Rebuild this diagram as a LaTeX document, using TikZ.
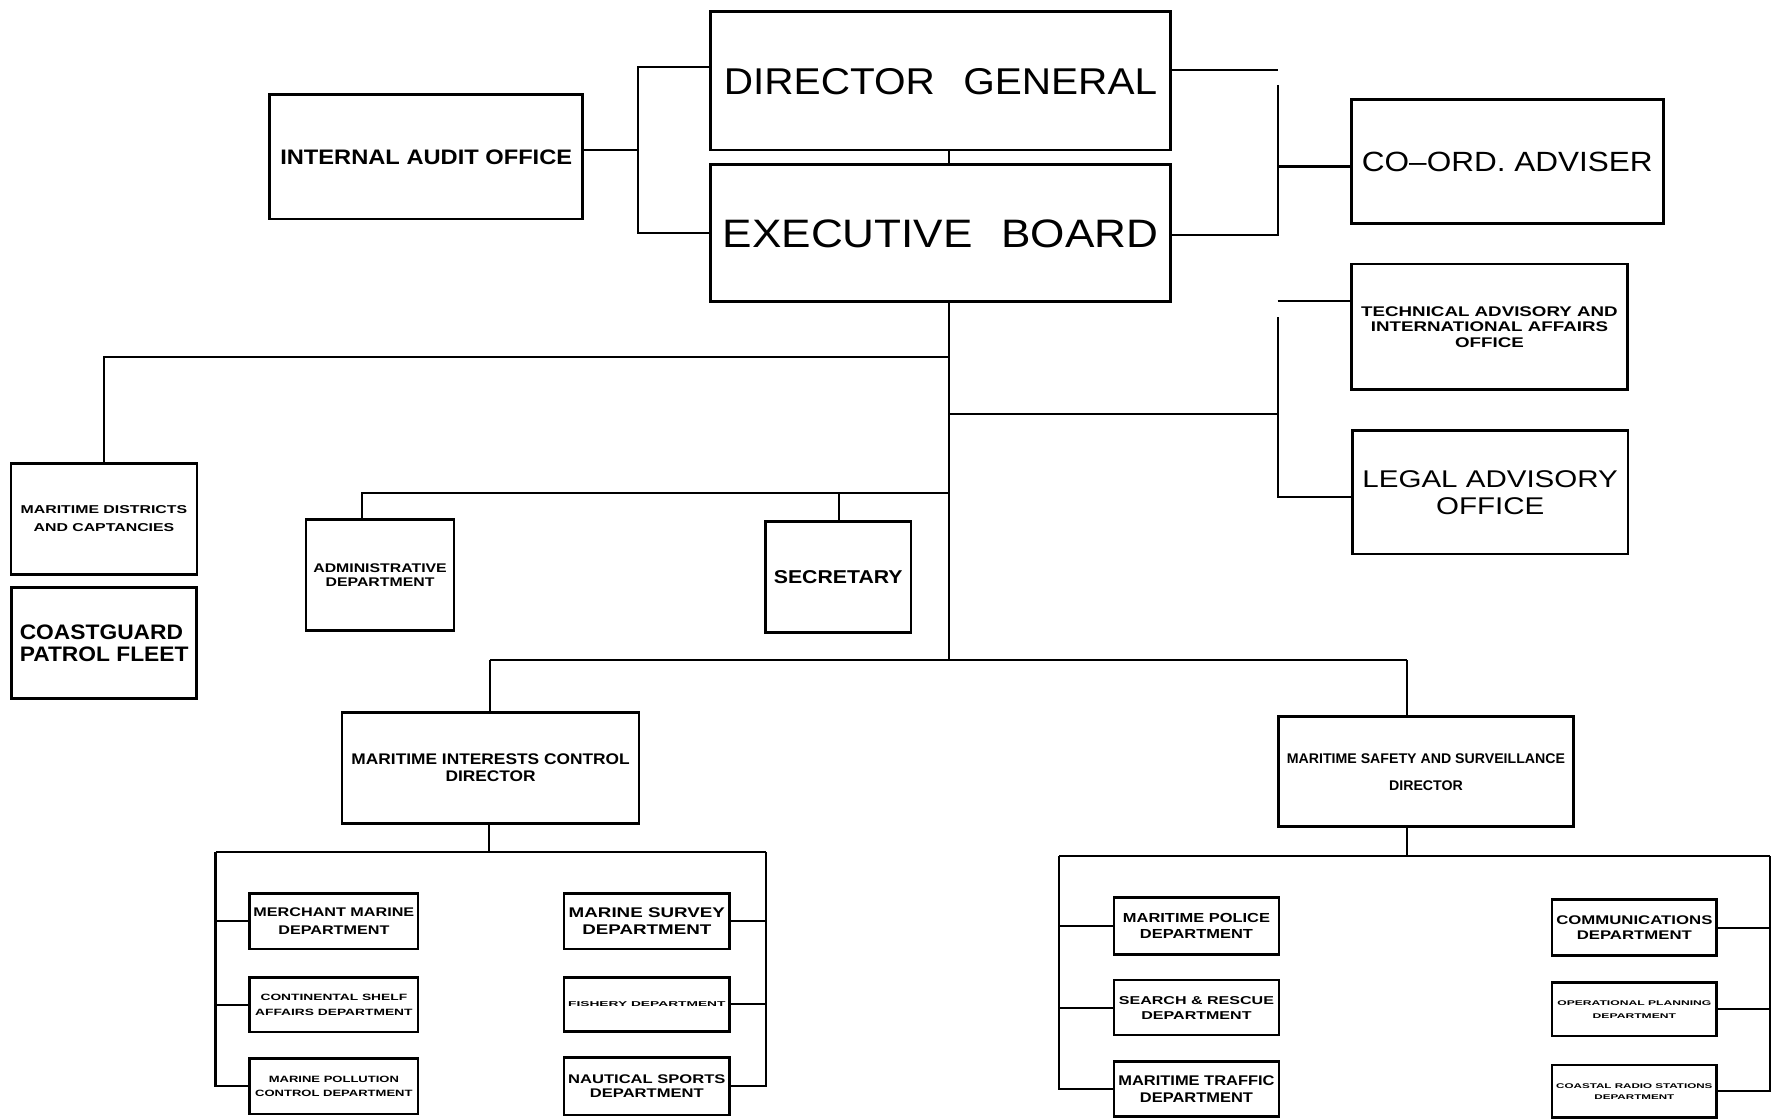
\documentclass[tikz,border=0pt]{standalone}
\usepackage{fontspec}
\setmainfont{Liberation Sans}
\usepackage{graphicx}
% #1 column alignment, #2 target width, #3 font size, #4 line skip, #5 extra lines, #6 text
\newcommand\tx[6][c]{\raisebox{0pt}[.716\dimexpr#3pt\relax][#5\dimexpr#4pt\relax]{\resizebox{#2pt}{\height}{\fontsize{#3pt}{#4pt}\selectfont\begin{tabular}[t]{@{}#1@{}}#6\end{tabular}}}}
\tikzset{
  box/.style={draw, line width=2.3pt, inner sep=0pt, outer sep=0pt, font=\bfseries},
  wh/.style 2 args={minimum width=#1pt, minimum height=#2pt},
  wire/.style={line width=1.8pt, line join=miter}
}
\begin{document}
\begin{tikzpicture}[x=1pt,y=-1pt]
\useasboundingbox (0,0) rectangle (1568,982);
% ---------- top level ----------
\node[box,font=\mdseries,wh={403.6}{121.4}] (dg) at (824.8,70.9) {\tx{380}{32.7}{39}{0}{DIRECTOR\hspace{0.7em}GENERAL}};
\node[box,font=\mdseries,wh={403.6}{120.6}] (eb) at (824.8,204.3) {\tx{382}{34.8}{41}{0}{EXECUTIVE\hspace{0.65em}BOARD}};
\node[box,wh={274.4}{109.3}] (iao) at (373.8,137.35) {\tx{256}{18.4}{22}{0}{INTERNAL AUDIT OFFICE}};
\node[box,font=\mdseries,wh={273.7}{108.7}] (coord) at (1321.85,141.45) {\tx{255}{24.4}{29}{0}{CO--ORD.\ ADVISER}};
\node[box,wh={241.6}{109.9}] (tech) at (1306.2,286.45) {\tx{225}{12.3}{13.6}{2}{TECHNICAL ADVISORY AND\\INTERNATIONAL AFFAIRS\\OFFICE}};
\node[box,font=\mdseries,wh={241.6}{108.1}] (legal) at (1306.8,431.75) {\tx{224}{21.2}{24.4}{1}{LEGAL ADVISORY\\OFFICE}};
% ---------- second level ----------
\node[box,wh={163.1}{97.4}] (md) at (91.15,455) {\tx{146}{10}{15.7}{1}{MARITIME DISTRICTS\\AND CAPTANCIES}};
\node[box,wh={162.3}{97.4}] (cg) at (91.35,563.7) {\tx[l]{148}{18.4}{19.3}{1}{COASTGUARD\\PATROL FLEET}};
\node[box,wh={129.8}{97.6}] (admin) at (333.3,504.2) {\tx{117}{11}{13}{1}{ADMINISTRATIVE\\DEPARTMENT}};
\node[box,wh={127.6}{97}] (sec) at (735.1,506) {\tx{113}{16.3}{19.5}{0}{SECRETARY}};
\node[box,wh={260.5}{97.3}] (micd) at (430.25,673.35) {\tx{244}{13.5}{15}{1}{MARITIME INTERESTS CONTROL\\DIRECTOR}};
\node[box,wh={259}{96.5}] (mss) at (1250.5,676.75) {\tx{244}{12.3}{23.5}{1}{MARITIME SAFETY AND SURVEILLANCE\\DIRECTOR}};
% ---------- departments, left director ----------
\node[box,wh={147.6}{48.9}] (merch) at (292.8,807.85) {\tx{141}{11}{15.5}{1}{MERCHANT MARINE\\DEPARTMENT}};
\node[box,wh={147.6}{48}] (cont) at (292.8,881) {\tx{138}{8}{12.6}{1}{CONTINENTAL SHELF\\AFFAIRS DEPARTMENT}};
\node[box,wh={147.6}{49}] (poll) at (292.8,952.5) {\tx{138}{8}{11.7}{1}{MARINE POLLUTION\\CONTROL DEPARTMENT}};
\node[box,wh={145.5}{48.9}] (survey) at (567.25,807.85) {\tx{137}{12.3}{14.6}{1}{MARINE SURVEY\\DEPARTMENT}};
\node[box,wh={145.5}{47.7}] (fish) at (567.25,880.85) {\tx{138}{6.2}{8}{0}{FISHERY DEPARTMENT}};
\node[box,wh={145.5}{50.6}] (naut) at (567.25,952.5) {\tx{138}{11}{12.5}{1}{NAUTICAL SPORTS\\DEPARTMENT}};
% ---------- departments, right director ----------
\node[box,wh={144.5}{50}] (police) at (1049.25,812) {\tx{129}{11.5}{13.7}{1}{MARITIME POLICE\\DEPARTMENT}};
\node[box,wh={144.5}{48.2}] (sar) at (1049.25,883.6) {\tx{136}{10}{13}{1}{SEARCH \& RESCUE\\DEPARTMENT}};
\node[box,wh={144.5}{48.3}] (traffic) at (1049.25,955.15) {\tx{137}{12.3}{14.4}{1}{MARITIME TRAFFIC\\DEPARTMENT}};
\node[box,wh={144.5}{49}] (comms) at (1433.25,813.5) {\tx{137}{11}{13.4}{1}{COMMUNICATIONS\\DEPARTMENT}};
\node[box,wh={144.5}{46.8}] (opplan) at (1433.25,885.2) {\tx{135}{6}{11}{1}{OPERATIONAL PLANNING\\DEPARTMENT}};
\node[box,wh={144.5}{46}] (coastal) at (1433.25,957) {\tx{137}{6}{9.3}{1}{COASTAL RADIO STATIONS\\DEPARTMENT}};
% ---------- junction coordinates ----------
\coordinate (trunk) at (832.5,0);
\coordinate (ja) at (559.8,131.5);
\coordinate (ja1) at (559.8,58.5);
\coordinate (ja2) at (559.8,204.7);
\coordinate (jb1) at (1120.5,61);
\coordinate (jb2) at (1120.5,74.5);
\coordinate (jb3) at (1120.5,206);
\coordinate (jb4) at (1120.5,146);
\coordinate (jc1) at (1120.5,264);
\coordinate (jc2) at (1120.5,278);
\coordinate (jc3) at (1120.5,435.6);
\coordinate (t1) at (832.5,313);
\coordinate (l1) at (91,313);
\coordinate (t2) at (832.5,432.5);
\coordinate (l2) at (317.3,432.5);
\coordinate (l3) at (736,432.5);
\coordinate (t3) at (832.5,363);
\coordinate (r3) at (1120.5,363);
\coordinate (t4) at (832.5,578.8);
\coordinate (l4) at (429.5,578.8);
\coordinate (r4) at (1234,578.8);
\coordinate (bl) at (189,747);
\coordinate (bm) at (429,747);
\coordinate (br) at (672,747);
\coordinate (rl) at (929,750.5);
\coordinate (rm) at (1234,750.5);
\coordinate (rr) at (1552,750.5);
% ---------- connectors, top ----------
\draw[wire] (dg.south -| trunk) -- (eb.north -| trunk);
\draw[wire] (iao.east |- ja) -- (ja);
\draw[wire] (ja1 -| dg.west) -- (ja1) -- (ja2) -- (ja2 -| eb.west);
\draw[wire] (dg.east |- jb1) -- (jb1);
\draw[wire] (jb2) -- (jb3) -- (jb3 -| eb.east);
\draw[wire] (jb4) -- (jb4 -| coord.west);
\draw[wire] (jc1) -- (jc1 -| tech.west);
\draw[wire] (jc2) -- (jc3) -- (jc3 -| legal.west);
% ---------- trunk and branches ----------
\draw[wire] (eb.south -| trunk) -- (t4);
\draw[wire] (t1) -- (l1) -- (l1 |- md.north);
\draw[wire] (t2) -- (l2) -- (l2 |- admin.north);
\draw[wire] (l3) -- (l3 |- sec.north);
\draw[wire] (t3) -- (r3);
\draw[wire] (l4) -- (r4);
\draw[wire] (l4) -- (l4 |- micd.north);
\draw[wire] (r4) -- (r4 |- mss.north);
% ---------- left director departments ----------
\draw[wire] (micd.south -| bm) -- (bm);
\draw[wire] (bl) -- (br);
\draw[wire] (bl) |- (poll.west);
\draw[wire] (merch.west -| bl) -- (merch.west);
\draw[wire] (cont.west -| bl) -- (cont.west);
\draw[wire] (br) |- (naut.east);
\draw[wire] (survey.east) -- (survey.east -| br);
\draw[wire] (fish.east) -- (fish.east -| br);
% ---------- right director departments ----------
\draw[wire] (mss.south -| rm) -- (rm);
\draw[wire] (rl) -- (rr);
\draw[wire] (rl) |- (traffic.west);
\draw[wire] (police.west -| rl) -- (police.west);
\draw[wire] (sar.west -| rl) -- (sar.west);
\draw[wire] (rr) |- (coastal.east);
\draw[wire] (comms.east) -- (comms.east -| rr);
\draw[wire] (opplan.east) -- (opplan.east -| rr);
\end{tikzpicture}
\end{document}
